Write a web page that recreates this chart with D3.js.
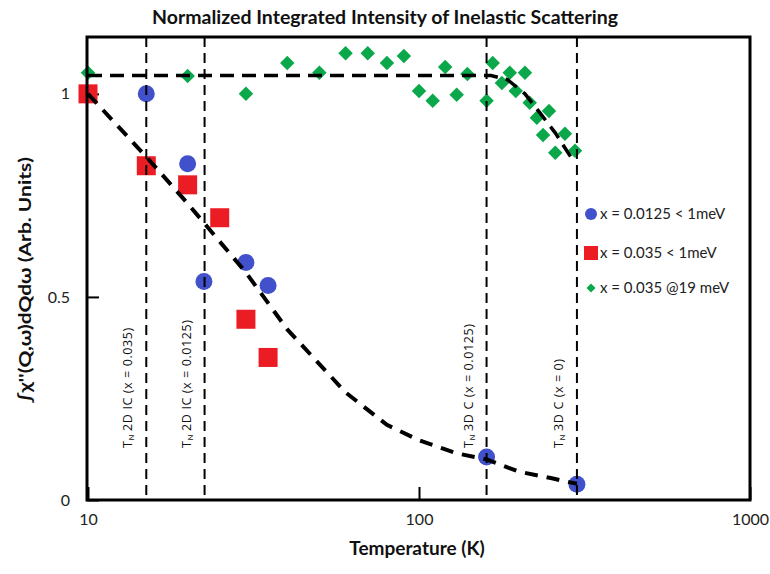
<!DOCTYPE html>
<html>
<head>
<meta charset="utf-8">
<script src="https://cdn.jsdelivr.net/npm/d3@7"></script>
<style>
  body { margin: 0; background: #fff; }
  svg { font-family: Lato, "Open Sans", sans-serif; }
</style>
</head>
<body>
<div id="chart"></div>
<script>
// data
const blueT = [15, 20, 22.4, 30, 35, 160, 300];
const blueI = [1.0, 0.828, 0.538, 0.585, 0.528, 0.106, 0.039];

const redT = [10, 15, 20, 25, 30, 35];
const redI = [1.0, 0.823, 0.776, 0.695, 0.445, 0.351];

const greenT = [10, 20, 30, 40, 50, 60, 70, 80, 90, 100, 110, 120, 130, 140, 160, 167, 178, 188, 196, 209, 216, 227, 237, 247, 258, 276, 296];
const greenI = [1.052, 1.044, 1.0, 1.076, 1.052, 1.10, 1.10, 1.076, 1.093, 1.007, 0.983, 1.066, 0.998, 1.049, 0.983, 1.076, 1.027, 1.052, 1.007, 1.052, 0.978, 0.941, 0.899, 0.958, 0.855, 0.902, 0.86];

// dashed guide curves
const fitLowT = [10, 15, 20, 30, 40, 60, 80, 100, 130, 160, 200, 250, 300];
const fitLowI = [1.0, 0.845, 0.73, 0.56, 0.42, 0.265, 0.185, 0.147, 0.115, 0.1, 0.07, 0.054, 0.04];
const fitHighT = [10, 165, 185, 209, 232, 258, 290];
const fitHighI = [1.045, 1.045, 1.035, 1.0, 0.953, 0.904, 0.84];

// transition temperatures
const transT = [15, 22.5, 160, 300];
const transMain = ["2D IC (x = 0.035)", "2D IC (x = 0.0125)", "3D C (x = 0.0125)", "3D C (x = 0)"];

const xTicks = [10, 100, 1000];
const yTicks = [0, 0.5, 1];
const legendLabels = ["x = 0.0125 < 1meV", "x = 0.035 < 1meV", "x = 0.035 @19 meV"];

const width = 770, height = 574;
const svg = d3.select("#chart").append("svg")
    .attr("width", width)
    .attr("height", height);

const x = d3.scaleLog().domain([10, 1000]).range([88, 750]);
const y = d3.scaleLinear().domain([0, 1.14]).range([500, 37]);

// axes (ticks inside the frame)
svg.append("g")
    .attr("transform", "translate(0,500)")
    .call(d3.axisBottom(x).tickValues(xTicks).tickFormat(d3.format("")).tickSizeInner(-13).tickSizeOuter(0).tickPadding(14))
    .call(g => g.select(".domain").remove())
    .call(g => g.selectAll("line").attr("stroke", "#000").attr("stroke-width", 2))
    .call(g => g.selectAll("text").attr("font-size", 16).attr("fill", "#222").attr("font-family", "Lato"));

svg.append("g")
    .attr("transform", "translate(87,0)")
    .call(d3.axisLeft(y).tickValues(yTicks).tickFormat(d3.format("")).tickSizeInner(-12).tickSizeOuter(0).tickPadding(17))
    .call(g => g.select(".domain").remove())
    .call(g => g.selectAll("line").attr("stroke", "#000").attr("stroke-width", 2))
    .call(g => g.selectAll("text").attr("font-size", 16).attr("fill", "#222").attr("font-family", "Lato"));

// markers
const green = "#0aa84a", red = "#ec1c24", blue = "#4150cb";

svg.append("g").selectAll("path")
    .data(greenT.map((t, i) => [t, greenI[i]]))
    .join("path")
    .attr("transform", d => `translate(${x(d[0])},${y(d[1])}) rotate(45)`)
    .attr("d", d3.symbol().type(d3.symbolSquare).size(105))
    .attr("fill", green);

svg.append("g").selectAll("rect")
    .data(redT.map((t, i) => [t, redI[i]]))
    .join("rect")
    .attr("x", d => x(d[0]) - 9.5)
    .attr("y", d => y(d[1]) - 9.5)
    .attr("width", 19)
    .attr("height", 19)
    .attr("fill", red);

svg.append("g").selectAll("circle")
    .data(blueT.map((t, i) => [t, blueI[i]]))
    .join("circle")
    .attr("cx", d => x(d[0]))
    .attr("cy", d => y(d[1]))
    .attr("r", 8.5)
    .attr("fill", blue);

// vertical transition lines
svg.append("g").selectAll("line")
    .data(transT)
    .join("line")
    .attr("x1", d => x(d)).attr("x2", d => x(d))
    .attr("y1", y.range()[1]).attr("y2", y.range()[0])
    .attr("stroke", "#000")
    .attr("stroke-width", 2)
    .attr("stroke-dasharray", "10,6");

// dashed guide curves
const line = d3.line().x(d => x(d[0])).y(d => y(d[1]));
svg.append("path")
    .datum(fitHighT.map((t, i) => [t, fitHighI[i]]))
    .attr("d", line)
    .attr("fill", "none")
    .attr("stroke", "#000")
    .attr("stroke-width", 3.5)
    .attr("stroke-dasharray", "14,8");

svg.append("path")
    .datum(fitLowT.map((t, i) => [t, fitLowI[i]]))
    .attr("d", line)
    .attr("fill", "none")
    .attr("stroke", "#000")
    .attr("stroke-width", 4)
    .attr("stroke-dasharray", "13,9");

// frame
svg.append("rect")
    .attr("x", 87).attr("y", 37)
    .attr("width", 663).attr("height", 463)
    .attr("fill", "none")
    .attr("stroke", "#000")
    .attr("stroke-width", 3);

// labels on the transition lines
const transLabel = svg.append("g").selectAll("text")
    .data(transT)
    .join("text")
    .attr("transform", d => `translate(${x(d) - 14},448) rotate(-90)`)
    .attr("font-size", 12.5)
    .attr("letter-spacing", 0.6)
    .attr("font-family", "Open Sans")
    .attr("fill", "#111");
transLabel.append("tspan").text("T");
transLabel.append("tspan").attr("font-size", 8).attr("dy", 2).text("N");
transLabel.append("tspan").attr("dy", -2).attr("dx", 3).text((d, i) => transMain[i]);

// title
svg.append("text")
    .attr("x", 385).attr("y", 24)
    .attr("text-anchor", "middle")
    .attr("font-size", 18)
    .attr("font-weight", "bold")
    .attr("fill", "#111")
    .attr("textLength", 466)
    .attr("lengthAdjust", "spacingAndGlyphs")
    .text("Normalized Integrated Intensity of Inelastic Scattering");

// axis titles
svg.append("text")
    .attr("x", 417).attr("y", 555)
    .attr("text-anchor", "middle")
    .attr("font-size", 19)
    .attr("font-weight", "bold")
    .attr("fill", "#111")
    .text("Temperature (K)");

svg.append("text")
    .attr("transform", "translate(31,280) rotate(-90)")
    .attr("text-anchor", "middle")
    .attr("font-size", 17)
    .attr("font-weight", "bold")
    .attr("fill", "#111")
    .attr("textLength", 246)
    .attr("lengthAdjust", "spacingAndGlyphs")
    .text("\u222B\u03C7''(Q,\u03C9)dQd\u03C9  (Arb. Units)");

// legend
const legend = svg.append("g").attr("transform", "translate(591,0)");
const legendY = [214, 253, 288];
legend.append("circle").attr("cx", 0).attr("cy", legendY[0]).attr("r", 6).attr("fill", blue);
legend.append("rect").attr("x", -7).attr("y", legendY[1] - 7).attr("width", 14).attr("height", 14).attr("fill", red);
legend.append("path")
    .attr("transform", `translate(0,${legendY[2]}) rotate(45)`)
    .attr("d", d3.symbol().type(d3.symbolSquare).size(40))
    .attr("fill", green);
legend.selectAll("text.lg")
    .data(legendLabels)
    .join("text")
    .attr("class", "lg")
    .attr("x", 9)
    .attr("y", (d, i) => legendY[i] + 5)
    .attr("font-size", 15)
    .attr("fill", "#222")
    .text(d => d);
</script>
</body>
</html>
